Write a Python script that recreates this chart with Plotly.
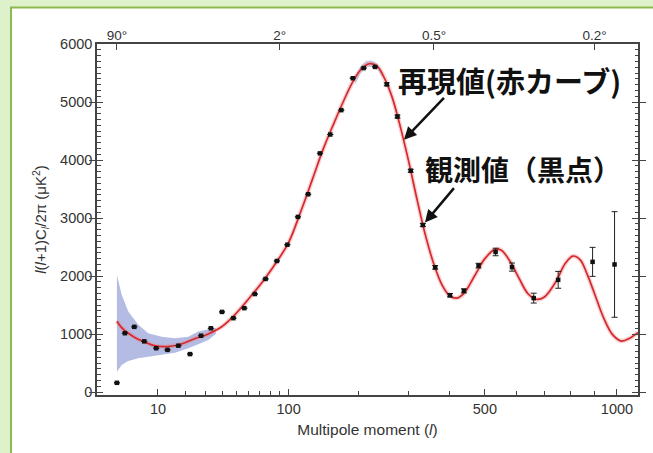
import numpy as np
import plotly.graph_objects as go

# ---------------- data ----------------
obs_l = [2, 3, 4.5, 6.5, 9.5, 13, 17, 22, 27.5, 33, 40, 48, 56.5, 65.5, 75.5, 87, 98.5,
         111, 124, 140, 155, 172, 191, 210, 231, 254, 276, 305, 333, 363, 401, 439, 481,
         533, 586, 661, 752, 892, 989]
obs_d = [160, 1015, 1125, 875, 756, 728, 800, 655, 972, 1100, 1382, 1274, 1447, 1690, 1950,
         2260, 2540, 3020, 3410, 4115, 4440, 4860, 5410, 5585, 5605, 5305, 4750, 3815, 2880,
         2150, 1670, 1745, 2180, 2415, 2155, 1620, 1935, 2245, 2200]
obs_err = [0, 0, 0, 0, 0, 0, 0, 0, 0, 0, 0, 0, 0, 0, 0, 0, 0,
           0, 0, 0, 0, 0, 0, 0, 0, 25, 25, 25, 25, 30, 30, 35, 40,
           65, 70, 85, 145, 250, 910]

th_l = [2, 2.5, 3, 3.5, 5, 6, 9, 13, 18, 24, 31.5, 40, 49, 63, 75, 87, 100, 115, 130, 145,
        160, 175, 190, 205, 220, 235, 250, 265, 280, 300, 320, 340, 360, 380, 400, 420, 440,
        470, 500, 530, 550, 580, 610, 640, 670, 700, 740, 780, 810, 840, 870, 900, 940, 980,
        1020, 1060, 1100]
th_d = [1220, 1120, 1060, 1015, 920, 882, 800, 785, 825, 916, 1003, 1130, 1331, 1677, 1960,
        2250, 2580, 3130, 3680, 4200, 4620, 5000, 5330, 5560, 5660, 5620, 5400, 5080, 4640,
        3990, 3300, 2680, 2200, 1850, 1660, 1620, 1710, 2010, 2300, 2455, 2450, 2250, 1960,
        1700, 1600, 1640, 1880, 2220, 2345, 2280, 2020, 1700, 1280, 990, 880, 930, 1030]

band_l = [2, 2.57, 3.5, 5.25, 7.44, 11.1, 15.7, 21.2, 26, 31.5, 36]
band_hi = [2020, 1680, 1390, 1160, 1015, 956, 928, 956, 1043, 1080, 1110]
band_lo = [350, 467, 536, 583, 610, 640, 680, 756, 825, 900, 1000]

peak_l = [195, 205, 215, 225, 235, 245]
peak_hi = [5440, 5630, 5710, 5715, 5665, 5520]
peak_lo = [5300, 5500, 5600, 5610, 5570, 5420]

x_tick_l = [10, 100, 500, 1000]
x_tick_txt = ["10", "100", "500", "1000"]
x_minor_l = [20, 30, 40, 50, 60, 70, 80, 90, 200, 300, 400, 600, 700, 800, 900]
top_tick_l = [2, 90, 360, 900]
top_tick_txt = ["90°", "2°", "0.5°", "0.2°"]
y_ticks = [0, 1000, 2000, 3000, 4000, 5000, 6000]

# power-law multipole scale used by the original figure
P = 0.4
def tx(v):
    return (np.asarray(v, dtype=float) ** P).tolist()

x_range = [0.741, 16.46]
y_range = [-50, 6000]
FONT = "Liberation Sans, Arial, sans-serif"
CJK = "Noto Sans CJK JP, sans-serif"
AX = "#444444"

fig = go.Figure()

# cosmic-variance band
fig.add_trace(go.Scatter(
    x=tx(band_l) + tx(band_l[::-1]), y=band_hi + band_lo[::-1],
    fill="toself", fillcolor="#b4bce4", line=dict(width=0), mode="lines",
    hoverinfo="skip", showlegend=False))
fig.add_trace(go.Scatter(
    x=tx(peak_l) + tx(peak_l[::-1]), y=peak_hi + peak_lo[::-1],
    fill="toself", fillcolor="#c6cbea", line=dict(width=0), mode="lines",
    hoverinfo="skip", showlegend=False))

# theory curve (pink halo + red line)
fig.add_trace(go.Scatter(
    x=tx(th_l), y=th_d, mode="lines", line=dict(color="rgba(235,130,140,0.35)", width=4.5,
    shape="spline"), hoverinfo="skip", showlegend=False))
fig.add_trace(go.Scatter(
    x=tx(th_l), y=th_d, mode="lines", line=dict(color="#d42a2a", width=1.7, shape="spline"),
    showlegend=False))

# observed points
fig.add_trace(go.Scatter(
    x=tx(obs_l), y=obs_d, mode="markers",
    marker=dict(symbol="square", size=4.5, color="#111111"),
    error_y=dict(type="data", array=obs_err, color="#222222", thickness=1, width=3),
    showlegend=False))

# invisible traces to activate the overlay axes (top angle axis, minor-tick axes)
fig.add_trace(go.Scatter(x=tx([2]), y=[None], xaxis="x2", mode="markers",
                         showlegend=False, hoverinfo="skip"))
fig.add_trace(go.Scatter(x=tx([2]), y=[None], xaxis="x3", yaxis="y2", mode="markers",
                         showlegend=False, hoverinfo="skip"))

axis_common = dict(showgrid=False, zeroline=False, showline=True, linecolor=AX,
                   linewidth=1.5, tickcolor=AX, tickfont=dict(family=FONT, size=14.5,
                   color="#333333"))

fig.update_layout(
    width=653, height=453,
    margin=dict(l=97, r=15, t=44, b=58),
    paper_bgcolor="#ddf2cb", plot_bgcolor="white",
    xaxis=dict(range=x_range, tickmode="array", tickvals=tx(x_tick_l), ticktext=x_tick_txt,
               ticks="inside", ticklen=6, tickwidth=1.3, mirror=True,
               title=dict(text="Multipole moment (<i>l</i>)", standoff=8,
                          font=dict(family=FONT, size=15.5, color="#333333")),
               **axis_common),
    xaxis2=dict(overlaying="x", side="top", range=x_range, tickmode="array",
                tickvals=tx(top_tick_l), ticktext=top_tick_txt, ticks="inside", ticklen=6,
                tickwidth=1.3, showgrid=False, zeroline=False, showline=False,
                tickcolor=AX, tickfont=dict(family=FONT, size=13.5, color="#333333")),
    xaxis3=dict(overlaying="x", side="bottom", range=x_range, tickmode="array",
                tickvals=tx(x_minor_l), showticklabels=False, ticks="inside", ticklen=4,
                tickwidth=1.2, tickcolor=AX, showgrid=False, zeroline=False,
                showline=False),
    yaxis=dict(range=y_range, tickmode="array", tickvals=y_ticks, ticks="inside",
               ticklen=6, tickwidth=1.3, mirror="allticks",
               title=dict(text="<i>l</i>(<i>l</i>+1)C<sub><i>l</i></sub>/2π (μK<sup>2</sup>)",
                          standoff=10, font=dict(family=FONT, size=15, color="#333333")),
               **axis_common),
    yaxis2=dict(overlaying="y", side="left", range=y_range, tickmode="linear", tick0=0,
                dtick=100, showticklabels=False, ticks="inside", ticklen=3.5, tickwidth=1,
                tickcolor=AX, mirror="allticks", showline=False, showgrid=False,
                zeroline=False),
    shapes=[dict(type="rect", xref="paper", yref="paper", x0=-0.159, x1=1.06, y0=-0.2,
                 y1=1.104, line=dict(color="#8cb84e", width=2), fillcolor="white",
                 layer="below")],
    annotations=[
        dict(xref="paper", yref="paper", x=0.763, y=0.897, xanchor="center", yanchor="middle",
             text="<b>再現値(赤カーブ)</b>",
             showarrow=False, font=dict(family=CJK, size=29, color="#111111")),
        dict(xref="paper", yref="paper", x=0.787, y=0.644, xanchor="center", yanchor="middle",
             text="<b>観測値（黒点）</b>",
             showarrow=False, font=dict(family=CJK, size=28, color="#111111")),
        dict(x=tx([290])[0], y=4350, xref="x", yref="y", text=" ", showarrow=True,
             arrowhead=2, arrowsize=1, arrowwidth=2.5, arrowcolor="#111111", ax=43, ay=-45),
        dict(x=tx([338])[0], y=2922, xref="x", yref="y", text=" ", showarrow=True,
             arrowhead=2, arrowsize=1, arrowwidth=2.5, arrowcolor="#111111", ax=32, ay=-38),
    ],
)

fig.write_html("out.html", config={"displayModeBar": False},
               post_script="document.body.style.margin='0px';")
